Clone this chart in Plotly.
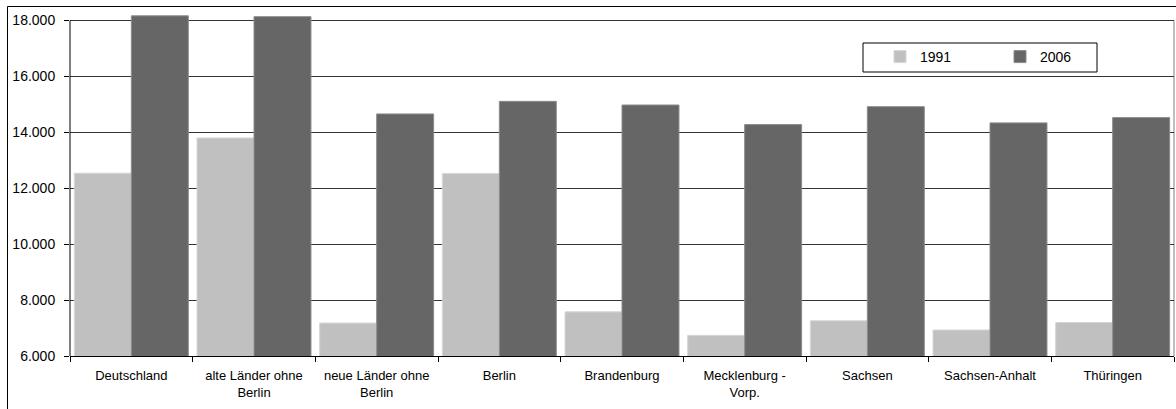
import plotly.graph_objects as go

# Regions and values per year
regions = [
    "Deutschland",
    "alte Länder ohne<br>Berlin",
    "neue Länder ohne<br>Berlin",
    "Berlin",
    "Brandenburg",
    "Mecklenburg -<br>Vorp.",
    "Sachsen",
    "Sachsen-Anhalt",
    "Thüringen",
]
values_1991 = [12540, 13800, 7180, 12530, 7580, 6740, 7260, 6930, 7200]
values_2006 = [18170, 18140, 14660, 15110, 14980, 14280, 14920, 14340, 14530]

y_ticks = [6000, 8000, 10000, 12000, 14000, 16000, 18000]

FONT = "Liberation Sans, Arial, sans-serif"

fig = go.Figure()
fig.add_trace(go.Bar(
    x=regions, y=values_1991, name="1991",
    marker=dict(color="#C0C0C0", line=dict(color="#D6D6D6", width=1)),
))
fig.add_trace(go.Bar(
    x=regions, y=values_2006, name="2006",
    marker=dict(color="#666666", line=dict(color="#8C8C8C", width=1)),
))

W, H = 1176, 409
L, R, T, B = 70, 2, 15, 53
plot_w = W - L - R
plot_h = H - T - B


def px_x(px):
    return (px - L) / plot_w


def px_y(py):
    return (H - B - py) / plot_h


shapes = [
    # outer frame (top and left edges visible)
    dict(type="rect", xref="paper", yref="paper",
         x0=px_x(7.5), x1=px_x(1190), y0=px_y(430), y1=px_y(6.5),
         line=dict(color="black", width=1), fillcolor="rgba(0,0,0,0)", layer="above"),
    # value axis line
    dict(type="line", xref="paper", yref="y", x0=0, x1=0, y0=6000, y1=18000,
         line=dict(color="black", width=1), layer="above"),
    # right edge of plot area
    dict(type="line", xref="paper", yref="y", x0=1, x1=1, y0=6000, y1=18000,
         line=dict(color="#808080", width=1), layer="below"),
    # legend box
    dict(type="rect", xref="paper", yref="paper",
         x0=px_x(863), x1=px_x(1097), y0=px_y(72), y1=px_y(43),
         line=dict(color="black", width=1), fillcolor="white", layer="below"),
]

fig.update_layout(
    width=W, height=H,
    margin=dict(l=L, r=R, t=T, b=B, pad=0),
    paper_bgcolor="white", plot_bgcolor="white",
    separators=",.",
    barmode="group", bargap=0.071, bargroupgap=0,
    font=dict(family=FONT, color="black"),
    showlegend=True,
    legend=dict(
        orientation="h", x=px_x(880), y=px_y(41), xanchor="left", yanchor="top",
        bgcolor="rgba(0,0,0,0)", borderwidth=0,
        font=dict(size=14, family=FONT, color="black"),
        entrywidth=75, entrywidthmode="pixels", itemclick=False,
    ),
    shapes=shapes,
    xaxis=dict(
        type="category", tickson="boundaries",
        showline=True, linecolor="black", linewidth=1,
        ticks="outside", ticklen=5, tickcolor="black", tickwidth=1,
        showgrid=False, tickangle=0,
        tickfont=dict(size=13, family=FONT, color="black"),
        ticklabelstandoff=7,
    ),
    yaxis=dict(
        range=[6000, 18200], tickvals=y_ticks, tickformat=",.0f",
        showline=False, ticks="outside", ticklen=5, tickcolor="black", tickwidth=1,
        showgrid=True, gridcolor="#333333", gridwidth=1, zeroline=False,
        tickfont=dict(size=14, family=FONT, color="black"),
        ticklabelstandoff=6,
    ),
)

fig.write_html("out.html")
